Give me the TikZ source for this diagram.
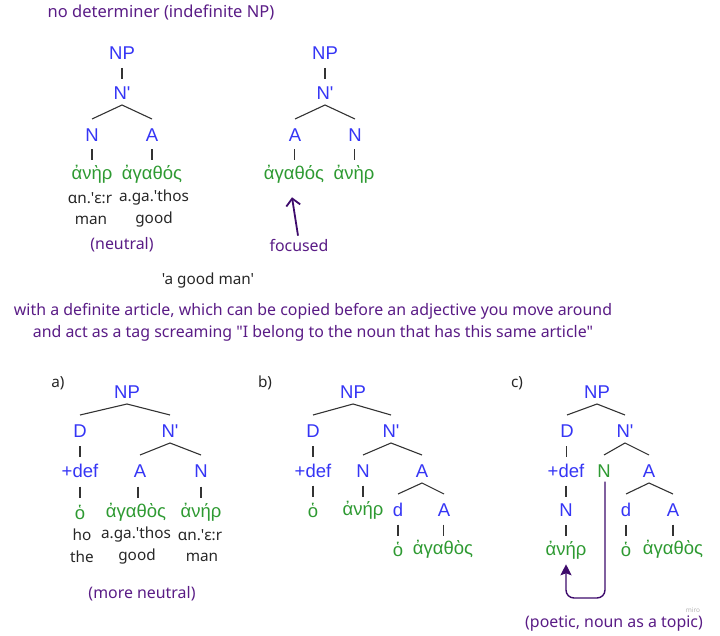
\documentclass[tikz,border=0pt]{standalone}
\usepackage{fontspec}
\setmainfont{Noto Sans}[Ligatures=TeXOff]
\newfontfamily\labf{Liberation Sans}[Ligatures=TeXOff]
\usetikzlibrary{calc,arrows.meta}
\definecolor{tblue}{HTML}{3535F5}
\definecolor{tgreen}{HTML}{2E9A32}
\definecolor{tpurple}{HTML}{5A1C86}
\definecolor{apurple}{HTML}{3E0B6C}
\definecolor{lgray}{HTML}{333333}
\tikzset{
  lab/.style={font=\labf\fontsize{18.5}{21}\selectfont, text=tblue, inner sep=0pt},
  grk/.style={font=\labf\fontsize{18.5}{21}\selectfont, text=tgreen, inner sep=0pt},
  gloss/.style={font=\fontsize{15.3}{18}\selectfont, text=black!85, inner sep=0pt},
  ann/.style={font=\fontsize{15.9}{18}\selectfont, text=tpurple, inner sep=0pt},
  edge/.style={draw=lgray, line width=1.1pt},
  parrow/.style={draw=apurple, line width=1.4pt},
}
\newcommand{\vl}[2]{\draw[edge] ($(#1)!0.5!(#2)+(0,-5)$) -- ($(#1)!0.5!(#2)+(0,6)$);}
\newcommand{\br}[3]{%
  \draw[edge] ($(#2)+(0,-16)$) -- ($(#1)+(0,12)$) -- ($(#3)+(0,-16)$);}
\begin{document}
\begin{tikzpicture}[x=1pt,y=-1pt]
\useasboundingbox (0,0) rectangle (720,636);
% ---------- title
\node[ann, font=\fontsize{16.5}{19}\selectfont] (t1) at (161,12) {no determiner (indefinite NP)};
% ---------- top-left tree
\node[lab] (a1) at (122,53) {NP};
\node[lab] (a2) at (122,93) {N'};
\node[lab] (a3) at (92,135) {N};
\node[lab] (a4) at (152,135) {A};
\node[grk] (a5) at (92,174) {ἀνὴρ};
\node[grk] (a6) at (152,174) {ἀγαθός};
\node[gloss] (a7) at (90,198) {ɑn.'ɛ:r};
\node[gloss] (a8) at (154,198) {a.ga.'thos};
\node[gloss] (a9) at (91,220) {man};
\node[gloss] (a10) at (154,220) {good};
\node[ann] (a11) at (122,245) {(neutral)};
\vl{a1}{a2}
\br{a2}{a3}{a4}
\vl{a3}{a5}
\vl{a4}{a6}
% ---------- top-right tree
\node[lab] (b1) at (325,53) {NP};
\node[lab] (b2) at (325,93) {N'};
\node[lab] (b3) at (295,135) {A};
\node[lab] (b4) at (355,135) {N};
\node[grk] (b5) at (294,174) {ἀγαθός};
\node[grk] (b6) at (354,174) {ἀνὴρ};
\node[ann] (b7) at (299,245) {focused};
\vl{b1}{b2}
\br{b2}{b3}{b4}
\vl{b3}{b5}
\vl{b4}{b6}
\draw[parrow, line width=1.8pt, -{Straight Barb[length=7pt,width=14pt]}] ($(b7.north)+(-1,-3)$) -- ($(b5.south)+(-2,14)$);
% ---------- middle texts
\node[gloss] (m1) at (208,281) {'a good man'};
\node[ann] (m2) at (313,311) {with a definite article, which can be copied before an adjective you move around};
\node[ann] (m3) at (313,333) {and act as a tag screaming "I belong to the noun that has this same article"};
% ---------- tree a)
\node[gloss] (ca) at (58,383) {a)};
\node[lab] (c1) at (127,392) {NP};
\node[lab] (c2) at (80,431) {D};
\node[lab] (c3) at (170,431) {N'};
\node[lab] (c4) at (80,471) {+def};
\node[lab] (c5) at (140,471) {A};
\node[lab] (c6) at (201,471) {N};
\node[grk] (c7) at (80,512) {ὁ};
\node[grk] (c8) at (136,512) {ἀγαθὸς};
\node[grk] (c9) at (201,512) {ἀνήρ};
\node[gloss] (c10) at (82,535) {ho};
\node[gloss] (c11) at (136,535) {a.ga.'thos};
\node[gloss] (c12) at (200,535) {ɑn.'ɛ:r};
\node[gloss] (c13) at (82,557) {the};
\node[gloss] (c14) at (137,557) {good};
\node[gloss] (c15) at (202,557) {man};
\node[ann] (c16) at (142,594) {(more neutral)};
\br{c1}{c2}{c3}
\br{c3}{c5}{c6}
\vl{c2}{c4}
\vl{c4}{c7}
\vl{c5}{c8}
\vl{c6}{c9}
% ---------- tree b)
\node[gloss] (da) at (265,383) {b)};
\node[lab] (d1) at (353,392) {NP};
\node[lab] (d2) at (313,431) {D};
\node[lab] (d3) at (391,431) {N'};
\node[lab] (d4) at (313,471) {+def};
\node[lab] (d5) at (363,471) {N};
\node[lab] (d6) at (422,471) {A};
\node[grk] (d7) at (313,510) {ὁ};
\node[grk] (d8) at (363,510) {ἀνήρ};
\node[lab] (d9) at (398,510) {d};
\node[lab] (d10) at (444,510) {A};
\node[grk] (d11) at (398,549) {ὁ};
\node[grk] (d12) at (443,549) {ἀγαθὸς};
\br{d1}{d2}{d3}
\br{d3}{d5}{d6}
\br{d6}{d9}{d10}
\vl{d2}{d4}
\vl{d4}{d7}
\vl{d5}{d8}
\vl{d9}{d11}
\vl{d10}{d12}
% ---------- tree c)
\node[gloss] (ea) at (517,383) {c)};
\node[lab] (e1) at (597,392) {NP};
\node[lab] (e2) at (567,431) {D};
\node[lab] (e3) at (625,431) {N'};
\node[lab] (e4) at (566,471) {+def};
\node[grk] (e5) at (604,471) {N};
\node[lab] (e6) at (649,471) {A};
\node[lab] (e7) at (566,510) {N};
\node[grk] (e8) at (566,550) {ἀνήρ};
\node[lab] (e9) at (626,510) {d};
\node[lab] (e10) at (673,510) {A};
\node[grk] (e11) at (626,549) {ὁ};
\node[grk] (e12) at (673,549) {ἀγαθὸς};
\br{e1}{e2}{e3}
\br{e3}{e5}{e6}
\br{e6}{e9}{e10}
\vl{e2}{e4}
\vl{e4}{e7}
\vl{e7}{e8}
\vl{e9}{e11}
\vl{e10}{e12}
\coordinate (ybot) at (0,598);
\draw[parrow, rounded corners=8pt, -{Stealth[length=11pt,width=11pt,inset=2pt]}]
  ($(e5.south)+(1,4)$) -- ($(e5.south |- ybot)+(1,0)$) -- (e8.south |- ybot) -- ($(e8.south)+(0,5)$);
\node[ann] (e13) at (614,624) {(poetic, noun as a topic)};
\node[font=\fontsize{6.5}{7}\selectfont, text=black!30, inner sep=0pt] (e14) at (693,610) {miro};
\end{tikzpicture}
\end{document}
